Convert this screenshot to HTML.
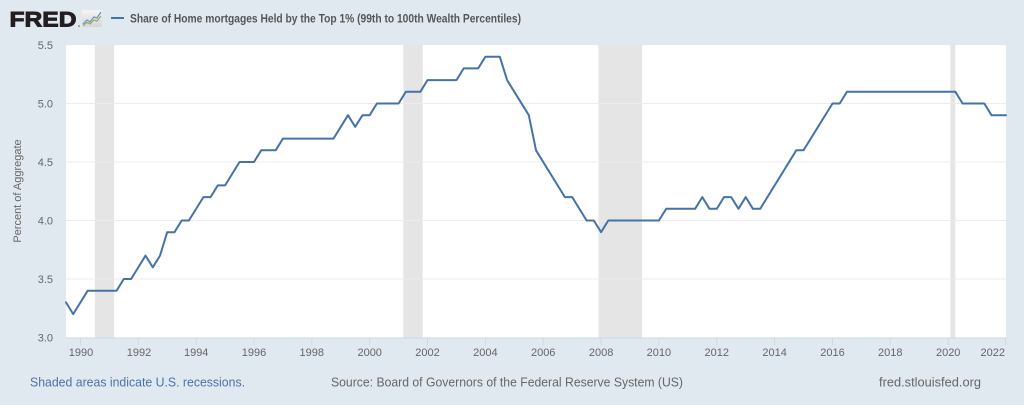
<!DOCTYPE html>
<html><head><meta charset="utf-8"><style>
html,body{margin:0;padding:0;background:#e1e9f0;}
svg{display:block;font-family:"Liberation Sans",Arial,sans-serif;}
</style></head><body>
<svg width="1024" height="405" viewBox="0 0 1024 405" xmlns="http://www.w3.org/2000/svg">
<rect x="0" y="0" width="1024" height="405" fill="#e1e9f0"/>
<!-- logo -->
<text x="9.5" y="26.5" font-size="21" font-weight="900" fill="#231f20" stroke="#231f20" stroke-width="0.9" textLength="67" lengthAdjust="spacingAndGlyphs">FRED</text>
<circle cx="79" cy="26" r="0.8" fill="#555"/>
<defs><linearGradient id="ig" x1="0" y1="0" x2="0" y2="1"><stop offset="0" stop-color="#f4f4f4"/><stop offset="1" stop-color="#d6d6d6"/></linearGradient></defs>
<rect x="82" y="10" width="20" height="17" rx="1.5" fill="url(#ig)"/>
<polyline points="83,24 87,20 90,22 94,17 97,18 101,12" fill="none" stroke="#6a8fc0" stroke-width="1.2"/>
<polyline points="83,25.5 87,22.5 90,24 94,20 97,21 101,16" fill="none" stroke="#8fb060" stroke-width="1.2"/>
<!-- legend -->
<line x1="111" y1="18" x2="124" y2="18" stroke="#4572a7" stroke-width="2"/>
<text x="130" y="22.5" font-size="12" font-weight="bold" fill="#555" textLength="391" lengthAdjust="spacingAndGlyphs">Share of Home mortgages Held by the Top 1% (99th to 100th Wealth Percentiles)</text>
<!-- plot area -->
<rect x="66" y="45" width="940" height="293" fill="#ffffff"/>
<!-- recessions -->
<g fill="#e5e5e5">
<rect x="94.9" y="45" width="19.3" height="293"/>
<rect x="403.3" y="45" width="19.4" height="293"/>
<rect x="598.5" y="45" width="43.6" height="293"/>
<rect x="950.4" y="45" width="4.9" height="293"/>
</g>
<!-- gridlines -->
<g stroke="#ececec" stroke-width="1">
<line x1="66" y1="103.5" x2="1006" y2="103.5"/>
<line x1="66" y1="162" x2="1006" y2="162"/>
<line x1="66" y1="220.5" x2="1006" y2="220.5"/>
<line x1="66" y1="279" x2="1006" y2="279"/>
</g>
<!-- x axis -->
<line x1="66" y1="338" x2="1006" y2="338" stroke="#ccd6eb" stroke-width="1"/>
<g stroke="#ccd6eb" stroke-width="1">
<line x1="80.5" y1="338" x2="80.5" y2="345"/>
<line x1="138.3" y1="338" x2="138.3" y2="345"/>
<line x1="196.2" y1="338" x2="196.2" y2="345"/>
<line x1="254" y1="338" x2="254" y2="345"/>
<line x1="311.8" y1="338" x2="311.8" y2="345"/>
<line x1="369.7" y1="338" x2="369.7" y2="345"/>
<line x1="427.5" y1="338" x2="427.5" y2="345"/>
<line x1="485.4" y1="338" x2="485.4" y2="345"/>
<line x1="543.2" y1="338" x2="543.2" y2="345"/>
<line x1="601.1" y1="338" x2="601.1" y2="345"/>
<line x1="658.9" y1="338" x2="658.9" y2="345"/>
<line x1="716.8" y1="338" x2="716.8" y2="345"/>
<line x1="774.6" y1="338" x2="774.6" y2="345"/>
<line x1="832.5" y1="338" x2="832.5" y2="345"/>
<line x1="890.3" y1="338" x2="890.3" y2="345"/>
<line x1="948.2" y1="338" x2="948.2" y2="345"/>
<line x1="1005.5" y1="338" x2="1005.5" y2="345"/>
</g>
<g font-size="11" fill="#666" text-anchor="middle">
<text x="81" y="356">1990</text>
<text x="139" y="356">1992</text>
<text x="196.2" y="356">1994</text>
<text x="254" y="356">1996</text>
<text x="311.8" y="356">1998</text>
<text x="369.7" y="356">2000</text>
<text x="427.5" y="356">2002</text>
<text x="485.4" y="356">2004</text>
<text x="543.2" y="356">2006</text>
<text x="601.1" y="356">2008</text>
<text x="658.9" y="356">2010</text>
<text x="716.8" y="356">2012</text>
<text x="774.6" y="356">2014</text>
<text x="832.5" y="356">2016</text>
<text x="890.3" y="356">2018</text>
<text x="948.2" y="356">2020</text>
<text x="1005" y="356" text-anchor="end">2022</text>
</g>
<!-- y axis labels -->
<g font-size="11" fill="#666" text-anchor="end">
<text x="53" y="49">5.5</text>
<text x="53" y="107.5">5.0</text>
<text x="53" y="166">4.5</text>
<text x="53" y="224.5">4.0</text>
<text x="53" y="283">3.5</text>
<text x="53" y="341.5">3.0</text>
</g>
<text transform="translate(21,191) rotate(-90)" font-size="11" fill="#666" text-anchor="middle">Percent of Aggregate</text>
<!-- series -->
<polyline fill="none" stroke="#4572a7" stroke-width="2" stroke-linejoin="round" stroke-linecap="round" points="66.0,302.4 73.2,314.1 87.7,290.7 116.6,290.7 123.8,279.0 131.1,279.0 145.5,255.6 152.8,267.3 160.0,255.6 167.2,232.2 174.5,232.2 181.7,220.5 188.9,220.5 203.4,197.1 210.6,197.1 217.8,185.4 225.1,185.4 239.5,162.0 254.0,162.0 261.2,150.3 275.7,150.3 282.9,138.6 333.5,138.6 348.0,115.2 355.2,126.9 362.5,115.2 369.7,115.2 376.9,103.5 398.6,103.5 405.8,91.8 420.3,91.8 427.5,80.1 456.5,80.1 463.7,68.4 478.2,68.4 485.4,56.7 499.8,56.7 507.1,80.1 528.8,115.2 536.0,150.3 564.9,197.1 572.2,197.1 586.6,220.5 593.8,220.5 601.1,232.2 608.3,220.5 658.9,220.5 666.2,208.8 695.1,208.8 702.3,197.1 709.5,208.8 716.8,208.8 724.0,197.1 731.2,197.1 738.5,208.8 745.7,197.1 752.9,208.8 760.2,208.8 796.3,150.3 803.5,150.3 832.5,103.5 839.7,103.5 846.9,91.8 955.4,91.8 962.6,103.5 984.3,103.5 991.5,115.2 1006.0,115.2"/>
<!-- footer -->
<text x="30" y="386.5" font-size="12.5" fill="#4a72aa" textLength="215" lengthAdjust="spacingAndGlyphs">Shaded areas indicate U.S. recessions.</text>
<text x="331" y="386.5" font-size="12.5" fill="#666" textLength="352" lengthAdjust="spacingAndGlyphs">Source: Board of Governors of the Federal Reserve System (US)</text>
<text x="879" y="386.5" font-size="12.5" fill="#666" textLength="102" lengthAdjust="spacingAndGlyphs">fred.stlouisfed.org</text>
</svg>
</body></html>
